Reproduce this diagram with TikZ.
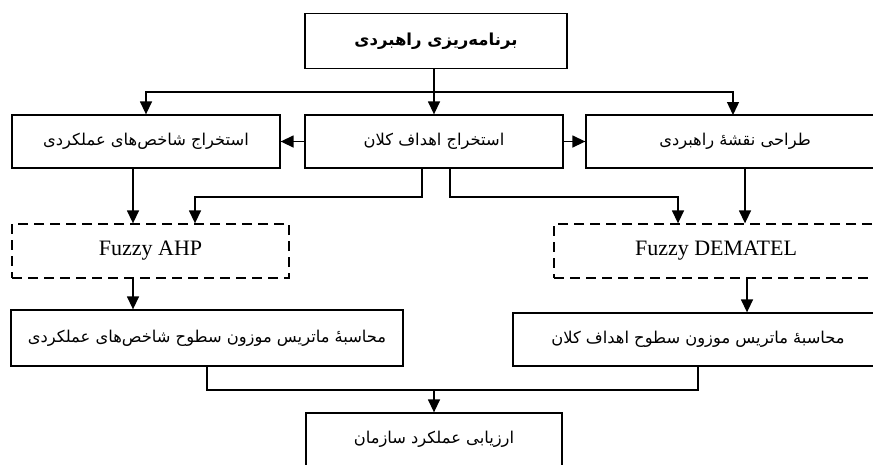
\documentclass[tikz,border=0pt]{standalone}
\usepackage{fontspec}
\setmainfont{Liberation Serif}
\newfontfamily\arabicfont[Script=Arabic]{DejaVu Sans}
\TeXXeTstate=1
\usetikzlibrary{arrows.meta}
\newcommand{\fa}[1]{{\arabicfont\beginR #1\endR}}
\tikzset{
  box/.style={draw, line width=1.3pt, minimum height=53pt, inner sep=0pt, font=\fontsize{16.3}{19}\selectfont},
  dbox/.style={box, dash pattern=on 10pt off 6pt, font=\fontsize{22}{26}\selectfont},
  conn/.style={line width=1.4pt},
  arr/.style={conn, -{Triangle[length=13pt,width=12pt]}}
}
\begin{document}
\begin{tikzpicture}[x=1pt,y=-1pt]
\useasboundingbox (0,0) rectangle (873,464);
\clip (0,0) rectangle (873,464);
\node[box, minimum width=262pt, minimum height=55pt, font=\fontsize{16.5}{19}\selectfont\bfseries] (top) at (436,41) {\fa{برنامه‌ریزی راهبردی}};
\node[box, minimum width=268pt] (ext) at (146,141.5) {\fa{استخراج شاخص‌های عملکردی}};
\node[box, minimum width=258pt] (goal) at (434,141.5) {\fa{استخراج اهداف کلان}};
\node[box, minimum width=298pt] (map) at (735,141.5) {\fa{طراحی نقشهٔ راهبردی}};
\node[dbox, minimum width=277pt, minimum height=54pt] (ahp) at (150.5,251) {Fuzzy AHP};
\node[dbox, minimum width=324pt, minimum height=54pt] (dem) at (716,251) {Fuzzy DEMATEL};
\node[box, minimum width=392pt, minimum height=56pt] (wl) at (207,338) {\fa{محاسبهٔ ماتریس موزون سطوح شاخص‌های عملکردی}};
\node[box, minimum width=370pt, minimum height=53pt] (wr) at (698,339.5) {\fa{محاسبهٔ ماتریس موزون سطوح اهداف کلان}};
\node[box, minimum width=256pt, minimum height=53pt] (eval) at (434,439.5) {\fa{ارزیابی عملکرد سازمان}};
% top distribution
\coordinate (t0) at (434,92);
\draw[conn] (top.south -| t0) -- (t0);
\draw[arr] (t0) -- (goal.north -| t0);
\draw[arr] (t0) -| (ext.north);
\draw[arr] (t0) -| (733,115);
% side arrows
\draw[arr] (goal.west) -- (ext.east);
\draw[arr] (goal.east) -- (map.west);
% to AHP / DEMATEL
\draw[arr] (ext.south -| 133,0) -- (ahp.north -| 133,0);
\draw[arr] (goal.south -| 422,0) |- (300,197) -| (ahp.north -| 195,0);
\draw[arr] (goal.south -| 450,0) |- (600,197) -| (dem.north -| 678,0);
\draw[arr] (map.south -| 745,0) -- (dem.north -| 745,0);
% to weighted matrices
\draw[arr] (ahp.south -| 133,0) -- (wl.north -| 133,0);
\draw[arr] (dem.south -| 747,0) -- (wr.north -| 747,0);
% to evaluation
\coordinate (b0) at (434,390);
\draw[conn] (wl.south) |- (b0) -| (wr.south);
\draw[arr] (b0) -- (eval.north);
\end{tikzpicture}
\end{document}
